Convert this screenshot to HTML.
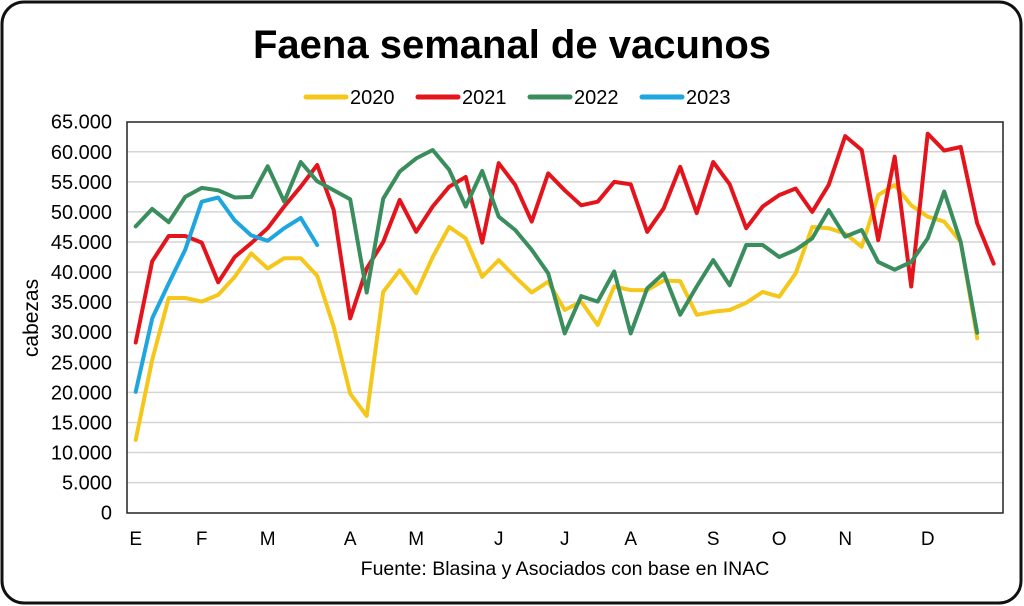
<!DOCTYPE html>
<html><head><meta charset="utf-8"><style>
html,body{margin:0;padding:0;background:#fff;}
svg{display:block;font-family:"Liberation Sans",Arial,sans-serif;}
</style></head><body>
<svg id="chart" width="1024" height="606" viewBox="0 0 1024 606">
<rect x="2" y="2" width="1019" height="601" rx="22" fill="#fff" stroke="#111" stroke-width="3"/>
<text x="512" y="58" text-anchor="middle" font-size="40" font-weight="bold" fill="#000">Faena semanal de vacunos</text>
<g id="grid"></g>
<g id="yticks"></g>
<g id="xticks"></g>
<g id="series"></g>
<rect x="127" y="122" width="876" height="391" fill="none" stroke="#222" stroke-width="1.5"/>
<g id="legend"></g>
<text transform="translate(38,318) rotate(-90)" text-anchor="middle" font-size="21" fill="#000">cabezas</text>
<text x="565" y="575" text-anchor="middle" font-size="19.5" fill="#000">Fuente: Blasina y Asociados con base en INAC</text>
</svg>
<script>
const yTicks = [0,5000,10000,15000,20000,25000,30000,35000,40000,45000,50000,55000,60000,65000];
const yTickLabels = ["0","5.000","10.000","15.000","20.000","25.000","30.000","35.000","40.000","45.000","50.000","55.000","60.000","65.000"];
const monthLabels = ["E","F","M","A","M","J","J","A","S","O","N","D"];
const monthWeeks = [0,4,8,13,17,22,26,30,35,39,43,48];
const seriesNames = ["2020","2021","2022","2023"];
const seriesColors = ["#f5c71a","#e3141c","#3a8d5d","#1fa6df"];
const s2020 = [12.1,25.4,35.7,35.7,35.1,36.2,39.2,43.1,40.6,42.3,42.3,39.4,30.9,19.8,16.1,36.7,40.3,36.5,42.5,47.5,45.6,39.2,42.0,39.2,36.6,38.4,33.7,35.1,31.2,37.6,37.0,37.0,38.6,38.5,32.9,33.4,33.7,34.9,36.7,35.9,39.8,47.5,47.3,46.4,44.2,52.8,54.5,51.1,49.2,48.4,45.0,29.0];
const s2021 = [28.3,41.8,46.0,46.0,44.9,38.3,42.5,44.8,47.3,50.9,54.2,57.8,50.3,32.3,40.6,45.0,52.0,46.7,50.9,54.2,55.8,44.9,58.1,54.5,48.4,56.4,53.6,51.1,51.7,55.0,54.6,46.7,50.6,57.5,49.8,58.3,54.6,47.3,50.9,52.8,53.9,50.0,54.5,62.6,60.3,45.3,59.2,37.6,63.0,60.2,60.8,48.1,41.4];
const s2022 = [47.6,50.5,48.3,52.5,54.0,53.6,52.4,52.5,57.6,51.7,58.3,55.1,53.6,52.1,36.6,52.2,56.7,58.9,60.3,57.0,50.9,56.8,49.2,47.0,43.7,39.8,29.8,36.0,35.1,40.1,29.8,37.3,39.8,32.9,37.6,42.0,37.8,44.5,44.5,42.5,43.7,45.6,50.3,45.9,47.0,41.7,40.4,41.7,45.6,53.4,45.0,29.9];
const s2023 = [20.1,32.3,38.1,43.7,51.7,52.4,48.6,46.1,45.2,47.3,49.0,44.5];
const allSeries = [s2020,s2021,s2022,s2023];

const NS = "http://www.w3.org/2000/svg";
const X0 = 135.7, DX = 16.5, Y0 = 512.7, YTOP = 121.7, YMAX = 65000;
function xs(i){ return X0 + i*DX; }
function ys(v){ return Y0 - (v/YMAX)*(Y0-YTOP); }
function mk(tag, attrs, parent){ const e=document.createElementNS(NS,tag); for(const k in attrs) e.setAttribute(k,attrs[k]); parent.appendChild(e); return e; }

const grid=document.getElementById('grid'), yt=document.getElementById('yticks'), xt=document.getElementById('xticks'), ser=document.getElementById('series'), leg=document.getElementById('legend');
yTicks.forEach((v,i)=>{
  if(v>0 && v<YMAX){
    const l=mk('line',{x1:127,x2:1003,y1:ys(v),y2:ys(v),stroke:'#d4d4d4','stroke-width':1.5},grid);
    
    
  }
  const t=mk('text',{x:112,y:ys(v)+7,'text-anchor':'end','font-size':20,fill:'#000'},yt);
  t.textContent=yTickLabels[i];
  
  
});
monthLabels.forEach((m,i)=>{
  const t=mk('text',{x:xs(monthWeeks[i]),y:545,'text-anchor':'middle','font-size':19,fill:'#000'},xt);
  t.textContent=m;
  
  
});
allSeries.forEach((s,k)=>{
  const pts=s.map((v,i)=>xs(i).toFixed(1)+','+ys(v*1000).toFixed(1)).join(' ');
  const p=mk('polyline',{points:pts,fill:'none',stroke:seriesColors[k],'stroke-width':4,'stroke-linejoin':'round','stroke-linecap':'round'},ser);
  
  
});
const legX=[306,418,530,642];
seriesNames.forEach((n,k)=>{
  const g=mk('g',{},leg);
  
  
  mk('line',{x1:legX[k],x2:legX[k]+40,y1:97,y2:97,stroke:seriesColors[k],'stroke-width':5,'stroke-linecap':'round'},g);
  const t=mk('text',{x:legX[k]+44,y:104,'font-size':20,fill:'#000'},g);
  t.textContent=n;
});
</script>
</body></html>
